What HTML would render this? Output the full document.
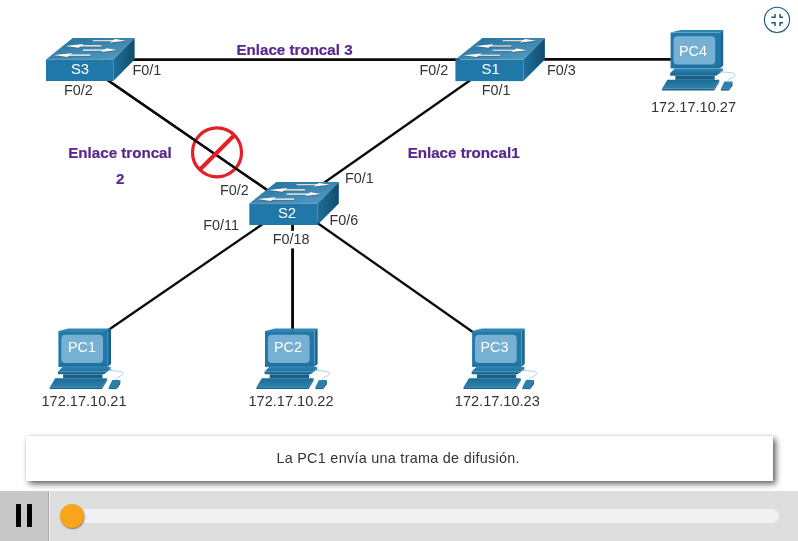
<!DOCTYPE html>
<html lang="es">
<head>
<meta charset="utf-8">
<title>Enlaces troncales</title>
<style>
html,body{margin:0;padding:0;}
body{width:798px;height:541px;background:#fff;overflow:hidden;position:relative;font-family:"Liberation Sans",Arial,sans-serif;}
#diagram{position:absolute;left:0;top:0;width:798px;height:491px;will-change:transform;}
#diagram text{font-family:"Liberation Sans",Arial,sans-serif;}
.port{font-size:14.4px;fill:#333;}
.ip{font-size:14.55px;fill:#333;}
.trunk{font-size:15.15px;font-weight:bold;fill:#59288e;stroke:#59288e;stroke-width:.22px;}
.swl{font-size:14.9px;fill:#fff;}
.pcl{font-size:14.4px;fill:#fff;}
#caption{will-change:transform;position:absolute;left:26.3px;top:436.4px;width:744.2px;padding-right:2.6px;height:45px;background:#fff;box-shadow:2.5px 3px 6px rgba(0,0,0,.6),0 0 2px rgba(0,0,0,.15);text-align:center;line-height:45px;font-size:14.4px;letter-spacing:0.28px;color:#333;}
#bar{position:absolute;left:0;top:491px;width:798px;height:50px;background:#dedede;}
#play{position:absolute;left:0;top:0;width:49px;height:50px;background:#c8c8c8;border-right:1px solid #f4f4f4;box-shadow:inset -1px 0 0 #acacac;}
#play i{position:absolute;top:13.4px;width:5.2px;height:22.8px;background:#000;border-radius:.6px;}
#track{position:absolute;left:60px;top:18px;width:719px;height:14px;border-radius:7px;background:#f0f0f0;}
#knob{position:absolute;left:59.8px;top:12.9px;width:24.4px;height:24.4px;border-radius:50%;background:#f9a51c;box-shadow:.6px 1px 1.5px rgba(0,0,0,.45);}
</style>
</head>
<body>
<svg id="diagram" width="798" height="491" viewBox="0 0 798 491">
<defs>
<linearGradient id="gtop" x1="0" y1="0" x2="1" y2="1">
<stop offset="0" stop-color="#1d6d99"/><stop offset="1" stop-color="#5b9fc6"/>
</linearGradient>
<linearGradient id="gside" x1="0" y1="0" x2="1" y2="0">
<stop offset="0" stop-color="#1f6f9b"/><stop offset="1" stop-color="#124c6e"/>
</linearGradient>
<g id="sw">
<polygon points="0,21.5 27,0 89.5,0 68,21.5" fill="url(#gtop)"/>
<rect x="0" y="21.5" width="68" height="21.5" fill="#2078a8"/>
<polygon points="68,21.5 89.5,0 89.5,21.5 68,43" fill="url(#gside)"/>
<g fill="#4d6573" transform="translate(0.4,0.85)">
<polygon points="47.30,2.15 67.87,2.15 69.62,0.90 80.60,2.70 64.58,4.50 66.33,3.25 47.30,3.25"/>
<polygon points="55.90,7.35 36.27,7.35 38.02,6.10 19.50,7.90 32.98,9.70 34.73,8.45 55.90,8.45"/>
<polygon points="37.30,11.55 59.27,11.55 61.02,10.30 71.30,12.10 55.98,13.90 57.73,12.65 37.30,12.65"/>
<polygon points="44.80,16.55 24.77,16.55 26.52,15.30 8.00,17.10 21.48,18.90 23.23,17.65 44.80,17.65"/>
</g>
<g fill="#fff">
<polygon points="47.30,2.15 67.87,2.15 69.62,0.90 80.60,2.70 64.58,4.50 66.33,3.25 47.30,3.25"/>
<polygon points="55.90,7.35 36.27,7.35 38.02,6.10 19.50,7.90 32.98,9.70 34.73,8.45 55.90,8.45"/>
<polygon points="37.30,11.55 59.27,11.55 61.02,10.30 71.30,12.10 55.98,13.90 57.73,12.65 37.30,12.65"/>
<polygon points="44.80,16.55 24.77,16.55 26.52,15.30 8.00,17.10 21.48,18.90 23.23,17.65 44.80,17.65"/>
</g>
</g>
<linearGradient id="gms" x1="0" y1="0" x2="1" y2="0"><stop offset="0" stop-color="#2575a3"/><stop offset="1" stop-color="#175a80"/></linearGradient>
<linearGradient id="gmf" x1="0" y1="0" x2="0" y2="1"><stop offset="0" stop-color="#2079a9"/><stop offset=".85" stop-color="#2078a8"/><stop offset="1" stop-color="#1d6e9b"/></linearGradient>
<linearGradient id="gk" x1="0" y1="0" x2="0" y2="1">
<stop offset="0" stop-color="#1c6a96"/><stop offset="1" stop-color="#2d82b1"/>
</linearGradient>
<linearGradient id="gb" x1="0" y1="0" x2="0" y2="1">
<stop offset="0" stop-color="#2e84b3"/><stop offset="1" stop-color="#1f73a1"/>
</linearGradient>
<g id="pc">
<polygon points="0.400,2.600 10.500,0 53,0 49.800,2.600" fill="#2f86b6"/>
<polygon points="49.800,2.600 53,0 53,35.500 49.800,38.400" fill="url(#gms)"/>
<rect x="0.400" y="2.600" width="49.400" height="35.800" fill="url(#gmf)"/>
<rect x="3.3" y="6.3" width="41.7" height="28.1" rx="4" fill="#76b0d2"/>
<polygon points="4.5,38.4 52.6,38.4 49.6,43 0,43" fill="url(#gb)"/>
<polygon points="0,43 49.6,43 52.6,38.4 52.6,41 46,45.8 0,45.8" fill="#1c6c98"/>
<rect x="5.1" y="45.8" width="39.4" height="4" fill="#195f88"/>
<polygon points="-2.8,49.7 49.1,49.7 44,58.7 -8.2,58.7" fill="url(#gk)"/>
<polygon points="-8.2,58.7 44,58.7 49.1,49.7 49.1,52 44,60.5 -8.2,60.5" fill="#1a6490"/>
<polygon points="54.3,51.4 62.3,51.4 58.7,58.7 50.7,58.7" fill="#2a7fae"/>
<polygon points="50.7,58.7 58.7,58.7 58.7,60.6 50.7,60.6" fill="#1c6a96"/>
<polygon points="62.3,51.4 62.3,55.6 58.7,60.6 58.7,58.7" fill="#17597f"/>
<path d="M50.1,41.8 C54,42 58,42.4 62,42.9 C64,43.3 65,44 64.8,45 C64.6,47 62,47.8 60.9,48.2 C59,49 57.6,49.8 57.6,51.4" fill="none" stroke="#9cc3dc" stroke-width="0.8"/>
</g>
</defs>
<g stroke="#0a0a0a" stroke-width="2.300" fill="none">
<line x1="130" y1="59.500" x2="460" y2="59.500" stroke-width="2.750"/>
<line x1="540" y1="59.400" x2="672" y2="59.400" stroke-width="2.850"/>
<line x1="106" y1="79" x2="270" y2="192"/>
<line x1="472" y1="79" x2="318" y2="187"/>
<line x1="270" y1="219" x2="104" y2="333"/>
<line x1="292.550" y1="220" x2="292.550" y2="333" stroke-width="2.850"/>
<line x1="316" y1="222" x2="476" y2="334.200"/>
</g>
<g>
<circle cx="217" cy="152.4" r="24.5" fill="none" stroke="#e3202a" stroke-width="3.2"/>
<line x1="106" y1="79" x2="270" y2="192" stroke="#0a0a0a" stroke-width="2.300"/>
<line x1="200" y1="169.5" x2="234" y2="135.5" stroke="#e3202a" stroke-width="4.100"/>
</g>
<use href="#sw" transform="translate(46,38) scale(0.99,1)"/>
<use href="#sw" x="455.400" y="38.100"/>
<use href="#sw" x="249.300" y="182"/>
<text class="swl" x="80" y="74" text-anchor="middle">S3</text>
<text class="swl" x="490.700" y="74" text-anchor="middle">S1</text>
<text class="swl" x="287" y="217.500" text-anchor="middle">S2</text>
<use href="#pc" x="670.2" y="30"/>
<use href="#pc" x="58" y="328.500"/>
<use href="#pc" x="264.600" y="328.500"/>
<use href="#pc" x="471.700" y="328.500"/>
<text class="pcl" x="693" y="55.500" text-anchor="middle">PC4</text>
<text class="pcl" x="82" y="352" text-anchor="middle">PC1</text>
<text class="pcl" x="288" y="352" text-anchor="middle">PC2</text>
<text class="pcl" x="494.5" y="352" text-anchor="middle">PC3</text>
<text class="ip" x="693.5" y="112" text-anchor="middle">172.17.10.27</text>
<text class="ip" x="84" y="405.700" text-anchor="middle">172.17.10.21</text>
<text class="ip" x="291" y="405.700" text-anchor="middle">172.17.10.22</text>
<text class="ip" x="497.300" y="405.700" text-anchor="middle">172.17.10.23</text>
<text class="port" x="132.500" y="75">F0/1</text>
<text class="port" x="64" y="94.800">F0/2</text>
<text class="port" x="419.500" y="75">F0/2</text>
<text class="port" x="547" y="75">F0/3</text>
<text class="port" x="481.800" y="95">F0/1</text>
<text class="port" x="220" y="195">F0/2</text>
<text class="port" x="345" y="182.500">F0/1</text>
<text class="port" x="329.500" y="224.800">F0/6</text>
<text class="port" x="203.300" y="229.800">F0/11</text>
<rect x="271" y="230.800" width="40" height="17.600" fill="#fff"/>
<text class="port" x="272.700" y="244.300">F0/18</text>
<text class="trunk" x="294.500" y="55.400" text-anchor="middle">Enlace troncal 3</text>
<text class="trunk" x="120" y="157.500" text-anchor="middle">Enlace troncal</text>
<text class="trunk" x="120.200" y="184.300" text-anchor="middle">2</text>
<text class="trunk" x="463.600" y="157.500" text-anchor="middle">Enlace troncal1</text>
<g fill="none" stroke="#1b5a80">
<circle cx="777" cy="19.85" r="12.6" stroke-width="1.1"/>
<path d="M771.3,17.3 H775 V14 M783,17.3 H780.1 V14 M771.3,22.8 H775 V26 M783,22.8 H780.1 V26" stroke-width="1.5"/>
</g>
</svg>
<div id="caption">La PC1 envía una trama de difusión.</div>
<div id="bar">
<div id="play"><i style="left:16.200px"></i><i style="left:26.900px"></i></div>
<div id="track"></div>
<div id="knob"></div>
</div>
</body>
</html>
